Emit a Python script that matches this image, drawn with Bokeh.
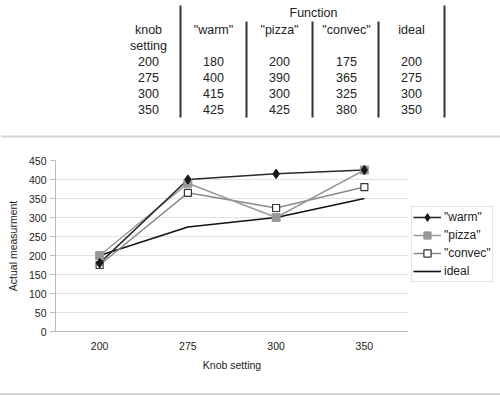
from bokeh.plotting import figure
from bokeh.models import Range1d, FactorRange, FixedTicker, Legend, LegendItem, Span, ColumnDataSource, Div
from bokeh.layouts import column, row
from bokeh.embed import file_html
from bokeh.resources import INLINE
from bokeh.core.properties import value

# ---- data ----
knob = [200, 275, 300, 350]
warm = [180, 400, 415, 425]
pizza = [200, 390, 300, 425]
convec = [175, 365, 325, 380]
ideal = [200, 275, 300, 350]
series_names = ['"warm"', '"pizza"', '"convec"', 'ideal']
y_ticks = [0, 50, 100, 150, 200, 250, 300, 350, 400, 450]

FONT = "Liberation Sans"
TXT = "#222222"
W = 500

# ---- styles ----
STY = {
    "warm": dict(line=dict(line_color="#2a2a2a", line_width=1.6),
                 mark=dict(marker="diamond", size=9, fill_color="#1a1a1a", line_color="#1a1a1a",
                           line_width=1.2)),
    "pizza": dict(line=dict(line_color="#9a9a9a", line_width=1.5),
                  mark=dict(marker="square", size=8, fill_color="#999999", line_color="#999999")),
    "convec": dict(line=dict(line_color="#8a8a8a", line_width=1.5),
                   mark=dict(marker="square", size=7, fill_color="white", line_color="#333333", line_width=1.2)),
    "ideal": dict(line=dict(line_color="#111111", line_width=1.6), mark=None),
}
keys = ["warm", "pizza", "convec", "ideal"]

# ---- table figure (coordinates in page pixels) ----
t = figure(width=W, height=138, x_range=Range1d(0, W), y_range=Range1d(138, 0),
           output_backend="svg", toolbar_location=None, min_border=0)
t.frame_align = False
t.axis.visible = False
t.grid.visible = False
t.outline_line_color = None

col_x = [148, 213, 279, 346, 411]
row_y = [61, 77, 93, 109]

t.text(x=[313], y=[12], text=["Function"], text_font=value(FONT), text_font_size="12.5px",
       text_align="center", text_baseline="middle", text_color=TXT)
t.text(x=col_x, y=[29] * 5, text=["knob"] + series_names, text_font=value(FONT),
       text_font_size="12.5px", text_align="center", text_baseline="middle", text_color=TXT)
t.text(x=[col_x[0]], y=[45], text=["setting"], text_font=value(FONT), text_font_size="12.5px",
       text_align="center", text_baseline="middle", text_color=TXT)
cols = [knob, warm, pizza, convec, ideal]
for cx, vals in zip(col_x, cols):
    t.text(x=[cx] * len(vals), y=row_y, text=[str(v) for v in vals], text_font=value(FONT),
           text_font_size="12.5px", text_align="center", text_baseline="middle", text_color=TXT)

t.segment(x0=[180, 444, 246, 312, 378], y0=[5, 5, 21, 21, 21],
          x1=[180, 444, 246, 312, 378], y1=[117] * 5, line_color="#333333", line_width=2)
t.add_layout(Span(location=136, dimension="width", line_color="#d4d4d4", line_width=2))

# ---- chart figure ----
cats = [str(k) for k in knob]
p = figure(width=408, height=255, x_range=FactorRange(*cats), y_range=Range1d(0, 450),
           output_backend="svg", toolbar_location=None,
           min_border_left=55, min_border_right=0, min_border_top=22, min_border_bottom=62)
p.frame_align = False
p.outline_line_color = None

p.xgrid.visible = False
p.ygrid.grid_line_color = "#e2e2e2"
p.ygrid.grid_line_width = 1

p.yaxis.ticker = FixedTicker(ticks=y_ticks)
p.yaxis.axis_line_color = "#bbbbbb"
p.yaxis.major_tick_line_color = "#bbbbbb"
p.yaxis.major_tick_out = 5
p.yaxis.major_tick_in = 0
p.yaxis.minor_tick_line_color = None
p.yaxis.major_label_standoff = 4
p.yaxis.axis_label = "Actual measurment"
p.yaxis.axis_label_standoff = 7

p.xaxis.axis_line_color = "#bbbbbb"
p.xaxis.major_tick_line_color = None
p.xaxis.major_tick_out = 0
p.xaxis.major_label_standoff = 10
p.xaxis.axis_label = "Knob setting"
p.xaxis.axis_label_standoff = 6

for ax in (p.xaxis, p.yaxis):
    ax.major_label_text_font = FONT
    ax.major_label_text_font_size = "10.5px"
    ax.major_label_text_color = TXT
    ax.axis_label_text_font = FONT
    ax.axis_label_text_font_size = "10.5px"
    ax.axis_label_text_font_style = "normal"
    ax.axis_label_text_color = TXT

src = ColumnDataSource(dict(x=cats, warm=warm, pizza=pizza, convec=convec, ideal=ideal))
for k in ["ideal", "convec", "pizza", "warm"]:
    p.line("x", k, source=src, **STY[k]["line"])
for k in ["convec", "pizza", "warm"]:
    p.scatter("x", k, source=src, **STY[k]["mark"])

# ---- legend figure (to the right of the chart); data lies outside its ranges ----
lg = figure(width=W - 408, height=255, x_range=Range1d(0, 1), y_range=Range1d(0, 1),
            output_backend="svg", toolbar_location=None, min_border=0)
lg.frame_align = False
lg.axis.visible = False
lg.grid.visible = False
lg.outline_line_color = None
lsrc = ColumnDataSource(dict(x=knob, warm=warm, pizza=pizza, convec=convec, ideal=ideal))
items = []
for k, name in zip(keys, series_names):
    rs = [lg.line("x", k, source=lsrc, **STY[k]["line"])]
    if STY[k]["mark"] is not None:
        rs.append(lg.scatter("x", k, source=lsrc, **STY[k]["mark"]))
    items.append(LegendItem(label=name, renderers=rs))

legend = Legend(items=items, location=(3, 111))
legend.label_text_font = FONT
legend.label_text_font_size = "12px"
legend.label_text_color = TXT
legend.border_line_color = "#cccccc"
legend.border_line_width = 1
legend.background_fill_color = "white"
legend.background_fill_alpha = 1
legend.padding = 1
legend.spacing = 0
legend.margin = 0
legend.glyph_height = 18
legend.label_height = 18
legend.glyph_width = 28
legend.label_standoff = 3
lg.add_layout(legend)

# ---- bottom rule ----
b = Div(width=W, height=2, margin=0, styles={"background-color": "#d4d4d4"})

layout = column(t, row(p, lg, spacing=0), b, spacing=0)
open("out.html", "w").write(file_html(layout, INLINE))
